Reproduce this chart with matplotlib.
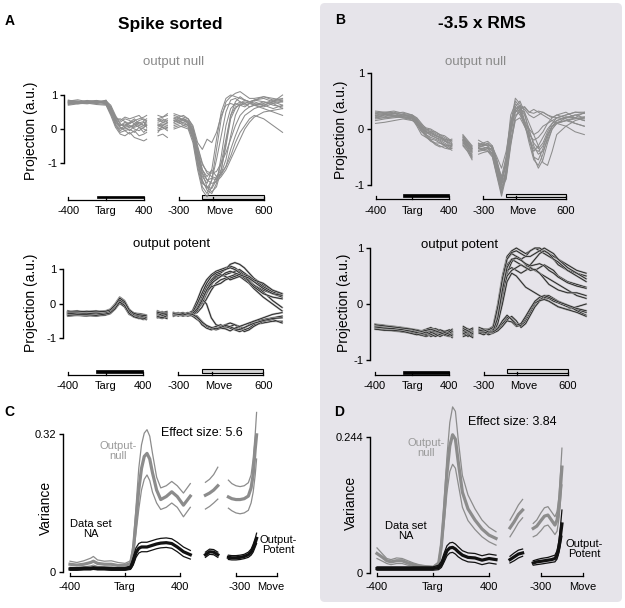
import matplotlib.pyplot as plt
from matplotlib.patches import FancyBboxPatch, Rectangle

plt.rcParams['font.family'] = ['Liberation Sans', 'DejaVu Sans']

W, H = 625, 608
NULL_GREY = '#8c8c8c'

# ---------------- data ----------------
# time samples (ms) of the projection traces
T_LEFT = [-400, -300, -200, -100, 0, 50, 100, 150, 200, 250, 300, 350, 400, 430]
X_MID = [550, 600, 650]
T_RIGHT = [-350, -300, -250, -200, -150, -100, -50, 0, 50, 100, 150, 200, 250, 300,
           350, 400, 450, 500, 600, 700, 800]

TICKS_LEFT = [-400, 0, 400]
LABELS_LEFT = ['-400', 'Targ', '400']
TICKS_RIGHT = [-300, 60, 600]
LABELS_RIGHT = ['-300', 'Move', '600']
TARG_BAR = (-100, 400)
MOVE_BAR = (-50, 600)

# A, output null
A_NULL_LEFT = [
    [0.80, 0.82, 0.78, 0.80, 0.75, 0.45, 0.20, 0.10, 0.15, 0.05, 0.12, 0.20, 0.10, 0.15],
    [0.75, 0.78, 0.80, 0.76, 0.78, 0.60, 0.30, 0.05, -0.05, 0.00, -0.10, 0.05, 0.00, -0.05],
    [0.85, 0.80, 0.82, 0.84, 0.80, 0.55, 0.25, 0.20, 0.30, 0.25, 0.15, 0.25, 0.30, 0.20],
    [0.70, 0.74, 0.76, 0.72, 0.70, 0.40, 0.05, -0.15, -0.20, -0.10, -0.25, -0.30, -0.35, -0.30],
    [0.78, 0.76, 0.74, 0.78, 0.82, 0.70, 0.40, 0.15, 0.05, 0.10, 0.00, -0.05, 0.05, 0.10],
    [0.82, 0.86, 0.80, 0.82, 0.78, 0.50, 0.15, 0.00, 0.10, 0.20, 0.30, 0.15, 0.10, 0.25],
    [0.76, 0.80, 0.84, 0.80, 0.76, 0.65, 0.35, 0.25, 0.35, 0.30, 0.35, 0.40, 0.25, 0.30],
    [0.80, 0.78, 0.80, 0.76, 0.85, 0.50, 0.10, -0.10, -0.05, -0.15, -0.05, -0.20, -0.15, -0.10],
    [0.84, 0.82, 0.78, 0.80, 0.74, 0.45, 0.20, 0.05, 0.00, 0.05, 0.15, 0.05, -0.10, 0.00],
    [0.72, 0.76, 0.80, 0.78, 0.80, 0.60, 0.25, 0.10, 0.20, 0.10, 0.05, 0.10, 0.20, 0.05],
    [0.78, 0.80, 0.76, 0.82, 0.78, 0.62, 0.35, 0.15, 0.08, 0.18, 0.22, 0.10, 0.05, 0.12],
    [0.80, 0.74, 0.78, 0.75, 0.72, 0.48, 0.12, -0.05, 0.05, -0.05, 0.08, 0.18, 0.22, 0.10],
    [0.74, 0.78, 0.82, 0.80, 0.84, 0.66, 0.28, 0.30, 0.22, 0.15, 0.25, 0.30, 0.35, 0.40],
]
A_NULL_MID = [[0.10, 0.20, 0.15], [0.00, 0.05, -0.05], [0.30, 0.35, 0.40], [-0.20, -0.15, -0.25],
              [0.15, 0.10, 0.20], [0.25, 0.30, 0.20], [0.40, 0.35, 0.45], [-0.05, 0.00, 0.05],
              [0.05, 0.15, 0.10], [0.20, 0.25, 0.30], [0.12, 0.05, 0.00], [0.30, 0.20, 0.25],
              [-0.10, 0.10, 0.05]]
A_NULL_RIGHT = [
    [0.30, 0.25, 0.30, 0.20, -0.10, -0.80, -1.40, -1.60, -1.20, -0.30, 0.50, 0.90, 1.00, 0.95, 0.90, 0.85, 0.80, 0.85, 0.90, 0.80, 0.70],
    [0.20, 0.25, 0.15, 0.10, -0.30, -1.10, -1.70, -1.90, -1.50, -0.60, 0.30, 0.80, 0.95, 1.05, 1.10, 1.00, 0.90, 0.90, 0.95, 0.85, 0.80],
    [0.45, 0.40, 0.35, 0.30, 0.10, -0.40, -0.60, -0.30, -0.40, -0.10, 0.40, 0.70, 0.75, 0.70, 0.80, 0.75, 0.65, 0.70, 0.80, 0.75, 0.60],
    [0.10, 0.15, 0.20, 0.10, -0.20, -0.90, -1.50, -1.80, -1.90, -1.60, -0.80, 0.10, 0.60, 0.75, 0.70, 0.75, 0.80, 0.85, 0.80, 0.70, 0.65],
    [0.25, 0.20, 0.25, 0.15, -0.25, -1.00, -1.60, -1.70, -1.75, -1.50, -1.00, -0.30, 0.40, 0.65, 0.70, 0.65, 0.75, 0.70, 0.75, 0.85, 0.90],
    [0.35, 0.30, 0.30, 0.25, 0.00, -0.60, -1.20, -1.40, -1.20, -1.40, -1.20, -0.50, 0.30, 0.60, 0.75, 0.85, 0.80, 0.70, 0.65, 0.75, 0.80],
    [0.05, 0.10, 0.05, 0.00, -0.40, -1.20, -1.80, -2.00, -1.70, -1.40, -1.30, -0.90, -0.20, 0.40, 0.70, 0.80, 0.75, 0.80, 0.70, 0.60, 0.70],
    [0.20, 0.30, 0.25, 0.20, -0.10, -0.70, -1.20, -1.50, -1.60, -1.55, -1.40, -1.20, -0.90, -0.60, -0.30, 0.00, 0.20, 0.35, 0.50, 0.55, 0.60],
    [0.40, 0.35, 0.40, 0.30, 0.05, -0.50, -1.00, -1.30, -1.40, -1.45, -1.30, -1.10, -0.80, -0.40, -0.10, 0.10, 0.30, 0.40, 0.30, 0.10, -0.10],
    [0.15, 0.20, 0.10, 0.15, -0.15, -0.80, -1.30, -1.50, -1.45, -1.50, -1.35, -1.10, -0.60, -0.20, 0.15, 0.40, 0.50, 0.60, 0.70, 0.80, 1.00],
    [0.30, 0.35, 0.25, 0.20, -0.05, -0.70, -1.30, -1.70, -1.85, -1.70, -1.20, -0.40, 0.40, 0.80, 0.95, 0.85, 0.80, 0.75, 0.70, 0.80, 0.85],
    [0.00, 0.05, 0.10, 0.05, -0.30, -0.95, -1.55, -1.75, -1.50, -0.90, -0.20, 0.50, 0.85, 0.90, 0.80, 0.70, 0.75, 0.85, 0.95, 0.90, 0.85],
    [0.25, 0.20, 0.30, 0.20, -0.05, -0.55, -1.05, -1.25, -1.30, -1.25, -1.00, -0.70, -0.30, 0.10, 0.40, 0.55, 0.65, 0.70, 0.60, 0.50, 0.40],
]

# A, output potent
A_POT_LEFT = [
    [-0.25, -0.28, -0.26, -0.25, -0.22, -0.18, -0.05, 0.15, 0.05, -0.20, -0.30, -0.32, -0.35, -0.38],
    [-0.30, -0.32, -0.30, -0.28, -0.25, -0.20, -0.10, 0.10, 0.00, -0.25, -0.35, -0.38, -0.40, -0.42],
    [-0.22, -0.20, -0.24, -0.22, -0.20, -0.15, 0.00, 0.20, 0.10, -0.15, -0.28, -0.30, -0.32, -0.35],
    [-0.35, -0.33, -0.35, -0.32, -0.30, -0.25, -0.12, 0.05, -0.05, -0.28, -0.38, -0.40, -0.45, -0.43],
    [-0.28, -0.26, -0.28, -0.30, -0.27, -0.22, -0.08, 0.12, 0.02, -0.22, -0.32, -0.36, -0.38, -0.40],
    [-0.20, -0.25, -0.22, -0.20, -0.24, -0.18, -0.02, 0.18, 0.08, -0.18, -0.26, -0.28, -0.30, -0.32],
    [-0.32, -0.30, -0.33, -0.35, -0.32, -0.28, -0.15, 0.02, -0.08, -0.30, -0.36, -0.42, -0.40, -0.45],
    [-0.26, -0.24, -0.25, -0.27, -0.24, -0.20, -0.06, 0.14, 0.04, -0.22, -0.30, -0.34, -0.36, -0.34],
    [-0.30, -0.28, -0.30, -0.26, -0.28, -0.24, -0.12, 0.08, 0.00, -0.26, -0.34, -0.36, -0.42, -0.40],
    [-0.24, -0.27, -0.28, -0.24, -0.22, -0.16, -0.04, 0.16, 0.06, -0.20, -0.28, -0.30, -0.34, -0.36],
    [-0.27, -0.29, -0.27, -0.29, -0.26, -0.21, -0.07, 0.11, 0.03, -0.21, -0.31, -0.33, -0.37, -0.39],
    [-0.33, -0.31, -0.31, -0.33, -0.29, -0.26, -0.14, 0.06, -0.04, -0.27, -0.37, -0.41, -0.41, -0.44],
    [-0.23, -0.23, -0.21, -0.23, -0.21, -0.17, -0.03, 0.17, 0.07, -0.17, -0.27, -0.31, -0.33, -0.33],
]
A_POT_MID = [[-0.25, -0.30, -0.28], [-0.35, -0.32, -0.40], [-0.20, -0.25, -0.22], [-0.40, -0.38, -0.42],
             [-0.28, -0.22, -0.30], [-0.30, -0.35, -0.25], [-0.38, -0.42, -0.36], [-0.22, -0.28, -0.32],
             [-0.32, -0.30, -0.35], [-0.26, -0.24, -0.30], [-0.27, -0.33, -0.30], [-0.36, -0.40, -0.34],
             [-0.24, -0.27, -0.26]]
A_POT_RIGHT = [
    [-0.30, -0.25, -0.30, -0.28, -0.20, 0.10, 0.45, 0.70, 0.85, 0.95, 1.00, 1.05, 1.10, 1.05, 0.95, 0.85, 0.70, 0.55, 0.40, 0.30, 0.20],
    [-0.35, -0.30, -0.32, -0.30, -0.30, -0.10, 0.20, 0.50, 0.70, 0.85, 0.90, 1.00, 1.15, 1.20, 1.15, 1.05, 0.90, 0.75, 0.55, 0.40, 0.30],
    [-0.25, -0.28, -0.25, -0.30, -0.25, -0.15, 0.00, 0.30, 0.55, 0.75, 0.80, 0.85, 0.90, 0.95, 1.00, 0.90, 0.80, 0.70, 0.50, 0.35, 0.25],
    [-0.30, -0.35, -0.30, -0.25, -0.30, -0.25, -0.10, 0.15, 0.40, 0.60, 0.70, 0.75, 0.80, 0.85, 0.80, 0.70, 0.60, 0.45, 0.20, 0.00, -0.20],
    [-0.28, -0.30, -0.35, -0.32, -0.28, -0.20, 0.10, 0.35, 0.50, 0.55, 0.60, 0.70, 0.75, 0.80, 0.85, 0.75, 0.65, 0.55, 0.35, 0.10, -0.10],
    [-0.32, -0.28, -0.30, -0.35, -0.32, -0.20, 0.05, 0.40, 0.65, 0.80, 0.85, 0.80, 0.70, 0.75, 0.80, 0.85, 0.80, 0.70, 0.60, 0.40, 0.30],
    [-0.30, -0.32, -0.28, -0.30, -0.35, -0.45, -0.55, -0.65, -0.70, -0.65, -0.60, -0.70, -0.65, -0.60, -0.65, -0.70, -0.60, -0.50, -0.45, -0.40, -0.35],
    [-0.25, -0.30, -0.30, -0.28, -0.30, -0.40, -0.60, -0.70, -0.75, -0.70, -0.70, -0.65, -0.70, -0.75, -0.80, -0.75, -0.70, -0.60, -0.55, -0.50, -0.50],
    [-0.35, -0.30, -0.35, -0.30, -0.25, -0.10, 0.15, 0.00, -0.40, -0.60, -0.65, -0.60, -0.55, -0.60, -0.70, -0.80, -0.75, -0.65, -0.50, -0.45, -0.55],
    [-0.28, -0.26, -0.30, -0.30, -0.30, -0.35, -0.50, -0.65, -0.70, -0.75, -0.70, -0.72, -0.78, -0.70, -0.65, -0.60, -0.55, -0.50, -0.40, -0.30, -0.25],
    [-0.30, -0.28, -0.32, -0.30, -0.25, 0.00, 0.30, 0.60, 0.80, 0.90, 0.95, 1.00, 1.05, 1.00, 0.90, 0.80, 0.65, 0.50, 0.30, 0.20, 0.15],
    [-0.32, -0.30, -0.28, -0.30, -0.28, -0.15, 0.10, 0.40, 0.60, 0.70, 0.80, 0.90, 0.95, 0.90, 0.85, 0.80, 0.75, 0.65, 0.45, 0.30, 0.25],
    [-0.28, -0.30, -0.32, -0.28, -0.30, -0.38, -0.52, -0.62, -0.68, -0.72, -0.68, -0.62, -0.66, -0.72, -0.74, -0.68, -0.62, -0.56, -0.48, -0.42, -0.40],
]

# B, output null
B_NULL_LEFT = [
    [0.25, 0.28, 0.25, 0.22, 0.20, 0.10, 0.00, -0.05, -0.10, -0.15, -0.20, -0.25, -0.30, -0.32],
    [0.30, 0.28, 0.30, 0.25, 0.22, 0.15, 0.05, 0.00, -0.05, -0.05, -0.10, -0.15, -0.20, -0.25],
    [0.20, 0.22, 0.25, 0.20, 0.18, 0.05, -0.10, -0.15, -0.20, -0.25, -0.25, -0.30, -0.35, -0.38],
    [0.15, 0.18, 0.20, 0.22, 0.20, 0.12, 0.02, -0.08, -0.05, -0.10, -0.15, -0.20, -0.28, -0.30],
    [0.28, 0.30, 0.28, 0.30, 0.25, 0.20, 0.10, 0.00, -0.02, -0.08, -0.12, -0.18, -0.22, -0.20],
    [0.22, 0.25, 0.22, 0.25, 0.20, 0.08, -0.05, -0.10, -0.15, -0.18, -0.22, -0.28, -0.32, -0.35],
    [0.10, 0.12, 0.15, 0.18, 0.15, 0.10, 0.00, -0.10, -0.18, -0.20, -0.25, -0.28, -0.30, -0.28],
    [0.32, 0.30, 0.32, 0.28, 0.25, 0.18, 0.08, 0.02, 0.00, -0.05, -0.10, -0.12, -0.18, -0.22],
    [0.25, 0.20, 0.22, 0.25, 0.22, 0.12, -0.02, -0.12, -0.20, -0.28, -0.32, -0.30, -0.35, -0.30],
    [0.20, 0.25, 0.28, 0.22, 0.18, 0.10, 0.02, -0.05, -0.12, -0.15, -0.18, -0.22, -0.25, -0.28],
    [0.28, 0.26, 0.24, 0.26, 0.24, 0.16, 0.06, -0.04, -0.08, -0.12, -0.16, -0.20, -0.24, -0.26],
    [0.18, 0.20, 0.22, 0.20, 0.16, 0.08, -0.04, -0.14, -0.22, -0.26, -0.30, -0.34, -0.36, -0.34],
    [0.24, 0.26, 0.28, 0.26, 0.22, 0.14, 0.04, -0.02, -0.06, -0.12, -0.14, -0.18, -0.20, -0.18],
]
B_NULL_MID = [[-0.20, -0.30, -0.40], [-0.15, -0.25, -0.35], [-0.25, -0.35, -0.50], [-0.10, -0.20, -0.30],
              [-0.20, -0.32, -0.45], [-0.30, -0.40, -0.55], [-0.18, -0.28, -0.38], [-0.12, -0.22, -0.32],
              [-0.22, -0.35, -0.48], [-0.25, -0.30, -0.42], [-0.18, -0.26, -0.36], [-0.28, -0.38, -0.52],
              [-0.14, -0.24, -0.34]]
B_NULL_RIGHT = [
    [-0.30, -0.28, -0.30, -0.40, -0.75, -1.15, -0.70, 0.10, 0.55, 0.45, 0.15, -0.20, -0.40, -0.30, -0.15, 0.00, 0.10, 0.15, 0.20, 0.25, 0.28],
    [-0.25, -0.30, -0.25, -0.35, -0.65, -1.00, -0.50, 0.25, 0.45, 0.35, 0.10, -0.15, -0.50, -0.55, -0.35, -0.10, 0.05, 0.10, 0.20, 0.20, 0.15],
    [-0.35, -0.35, -0.32, -0.45, -0.80, -1.10, -0.80, -0.10, 0.35, 0.40, 0.25, 0.00, -0.30, -0.45, -0.40, -0.20, 0.00, 0.10, 0.15, 0.20, 0.30],
    [-0.28, -0.25, -0.30, -0.30, -0.55, -0.90, -0.60, 0.05, 0.30, 0.40, 0.35, 0.25, 0.20, 0.25, 0.30, 0.25, 0.20, 0.25, 0.30, 0.20, 0.15],
    [-0.40, -0.38, -0.35, -0.45, -0.70, -1.05, -0.90, -0.30, 0.20, 0.35, 0.30, 0.10, -0.10, -0.30, -0.60, -0.65, -0.40, -0.10, 0.05, 0.15, 0.20],
    [-0.30, -0.32, -0.35, -0.35, -0.60, -0.85, -0.50, 0.15, 0.35, 0.25, 0.10, 0.00, -0.10, -0.05, 0.05, 0.10, 0.15, 0.10, 0.05, -0.05, -0.10],
    [-0.45, -0.42, -0.40, -0.50, -0.85, -1.20, -0.85, -0.20, 0.25, 0.30, 0.15, -0.05, -0.25, -0.35, -0.25, -0.05, 0.10, 0.20, 0.25, 0.30, 0.30],
    [-0.32, -0.30, -0.28, -0.32, -0.50, -0.70, -0.40, 0.10, 0.30, 0.35, 0.40, 0.30, 0.35, 0.30, 0.25, 0.20, 0.15, 0.20, 0.25, 0.30, 0.28],
    [-0.35, -0.38, -0.40, -0.42, -0.75, -1.00, -0.75, -0.05, 0.40, 0.50, 0.30, -0.10, -0.50, -0.70, -0.55, -0.25, 0.00, 0.10, 0.15, 0.10, 0.05],
    [-0.20, -0.25, -0.22, -0.30, -0.60, -0.95, -0.65, 0.00, 0.40, 0.30, 0.05, -0.10, -0.20, -0.15, -0.05, 0.10, 0.20, 0.25, 0.20, 0.25, 0.20],
    [-0.38, -0.36, -0.38, -0.48, -0.82, -1.15, -0.75, 0.00, 0.50, 0.40, 0.10, -0.25, -0.55, -0.65, -0.45, -0.15, 0.05, 0.15, 0.22, 0.20, 0.18],
    [-0.26, -0.28, -0.26, -0.34, -0.62, -0.95, -0.60, 0.05, 0.35, 0.42, 0.38, 0.30, 0.28, 0.32, 0.30, 0.25, 0.22, 0.20, 0.18, 0.10, 0.05],
    [-0.33, -0.35, -0.33, -0.38, -0.68, -1.05, -0.85, -0.25, 0.15, 0.20, 0.05, -0.15, -0.35, -0.40, -0.30, -0.10, 0.05, 0.12, 0.15, 0.18, 0.22],
]

# B, output potent
B_POT_LEFT = [
    [-0.38, -0.40, -0.42, -0.45, -0.48, -0.50, -0.52, -0.50, -0.48, -0.52, -0.50, -0.53, -0.50, -0.52],
    [-0.42, -0.44, -0.45, -0.48, -0.50, -0.52, -0.55, -0.55, -0.52, -0.50, -0.55, -0.52, -0.55, -0.58],
    [-0.36, -0.38, -0.40, -0.42, -0.45, -0.46, -0.48, -0.45, -0.42, -0.46, -0.48, -0.50, -0.48, -0.45],
    [-0.40, -0.42, -0.44, -0.46, -0.50, -0.54, -0.56, -0.58, -0.55, -0.57, -0.52, -0.50, -0.52, -0.55],
    [-0.44, -0.46, -0.48, -0.50, -0.52, -0.50, -0.48, -0.52, -0.58, -0.55, -0.50, -0.48, -0.52, -0.50],
    [-0.39, -0.41, -0.40, -0.44, -0.47, -0.49, -0.51, -0.49, -0.46, -0.44, -0.47, -0.51, -0.53, -0.50],
    [-0.41, -0.43, -0.46, -0.47, -0.49, -0.51, -0.53, -0.56, -0.54, -0.50, -0.46, -0.49, -0.56, -0.60],
    [-0.37, -0.40, -0.43, -0.44, -0.46, -0.48, -0.50, -0.51, -0.50, -0.53, -0.56, -0.55, -0.51, -0.48],
    [-0.43, -0.42, -0.45, -0.47, -0.51, -0.53, -0.50, -0.47, -0.50, -0.54, -0.58, -0.54, -0.49, -0.53],
    [-0.40, -0.39, -0.41, -0.43, -0.46, -0.50, -0.54, -0.53, -0.49, -0.47, -0.51, -0.56, -0.58, -0.55],
    [-0.41, -0.43, -0.44, -0.46, -0.49, -0.51, -0.53, -0.54, -0.51, -0.49, -0.52, -0.54, -0.57, -0.54],
    [-0.37, -0.39, -0.41, -0.43, -0.45, -0.47, -0.49, -0.47, -0.45, -0.48, -0.51, -0.49, -0.46, -0.49],
    [-0.45, -0.47, -0.47, -0.49, -0.53, -0.55, -0.53, -0.50, -0.54, -0.58, -0.54, -0.51, -0.54, -0.57],
]
B_POT_MID = [[-0.45, -0.50, -0.48], [-0.55, -0.52, -0.58], [-0.42, -0.46, -0.50], [-0.50, -0.55, -0.52],
             [-0.48, -0.44, -0.50], [-0.52, -0.58, -0.55], [-0.46, -0.50, -0.45], [-0.58, -0.55, -0.60],
             [-0.40, -0.45, -0.52], [-0.50, -0.47, -0.43], [-0.47, -0.52, -0.50], [-0.53, -0.49, -0.55],
             [-0.44, -0.48, -0.53]]
B_POT_RIGHT = [
    [-0.45, -0.45, -0.48, -0.40, 0.00, 0.50, 0.85, 0.95, 1.00, 0.95, 0.90, 0.95, 1.00, 0.95, 0.90, 0.85, 0.80, 0.70, 0.60, 0.55, 0.50],
    [-0.50, -0.48, -0.50, -0.45, -0.10, 0.40, 0.80, 0.90, 0.85, 0.80, 0.85, 0.95, 1.00, 1.00, 0.95, 0.90, 0.85, 0.80, 0.70, 0.60, 0.55],
    [-0.42, -0.45, -0.45, -0.40, -0.05, 0.45, 0.70, 0.80, 0.75, 0.70, 0.65, 0.70, 0.80, 0.90, 0.95, 0.90, 0.80, 0.75, 0.60, 0.50, 0.40],
    [-0.48, -0.50, -0.52, -0.50, -0.30, 0.10, 0.55, 0.75, 0.85, 0.80, 0.70, 0.65, 0.60, 0.65, 0.70, 0.65, 0.60, 0.50, 0.40, 0.35, 0.30],
    [-0.50, -0.52, -0.50, -0.48, -0.20, 0.30, 0.60, 0.65, 0.60, 0.55, 0.60, 0.65, 0.60, 0.55, 0.50, 0.45, 0.40, 0.35, 0.25, 0.15, 0.10],
    [-0.45, -0.48, -0.50, -0.45, -0.25, 0.20, 0.50, 0.60, 0.65, 0.70, 0.65, 0.60, 0.62, 0.55, 0.45, 0.35, 0.30, 0.25, 0.20, 0.20, 0.15],
    [-0.52, -0.50, -0.55, -0.52, -0.35, 0.00, 0.40, 0.55, 0.50, 0.40, 0.30, 0.25, 0.20, 0.15, 0.10, 0.05, 0.00, -0.05, -0.10, -0.05, 0.00],
    [-0.50, -0.52, -0.50, -0.48, -0.42, -0.32, -0.24, -0.26, -0.36, -0.40, -0.30, -0.15, 0.00, 0.08, 0.12, 0.10, 0.05, 0.02, -0.05, -0.10, -0.15],
    [-0.48, -0.50, -0.52, -0.50, -0.45, -0.35, -0.28, -0.22, -0.30, -0.42, -0.35, -0.20, -0.05, 0.05, 0.15, 0.15, 0.10, 0.05, -0.02, -0.12, -0.20],
    [-0.52, -0.55, -0.50, -0.52, -0.48, -0.40, -0.30, -0.32, -0.40, -0.38, -0.25, -0.10, 0.02, 0.06, 0.08, 0.05, 0.00, -0.05, -0.10, -0.15, -0.22],
    [-0.46, -0.48, -0.46, -0.42, -0.05, 0.45, 0.80, 0.92, 0.95, 0.90, 0.85, 0.85, 0.90, 0.95, 1.00, 0.95, 0.90, 0.80, 0.65, 0.55, 0.45],
    [-0.50, -0.50, -0.52, -0.48, -0.25, 0.25, 0.65, 0.80, 0.82, 0.78, 0.72, 0.68, 0.70, 0.72, 0.68, 0.60, 0.55, 0.48, 0.38, 0.32, 0.28],
    [-0.48, -0.46, -0.50, -0.50, -0.44, -0.30, -0.20, -0.28, -0.38, -0.35, -0.22, -0.08, 0.05, 0.12, 0.15, 0.12, 0.08, 0.04, -0.02, -0.08, -0.12],
]

# C, variance (upper, mean, lower)
C_T_LEFT = [-400, -350, -300, -250, -230, -200, -150, -100, -50, 0, 40, 60, 80, 100, 120, 140,
            160, 180, 200, 230, 260, 300, 340, 380, 425, 475]
C_X_MID = [585, 615, 645, 675]
C_T_RIGHT = [-355, -330, -300, -270, -240, -210, -190, -175, -160, -150]
C_NULL_LEFT = [
    [0.025, 0.022, 0.026, 0.032, 0.036, 0.028, 0.025, 0.026, 0.022, 0.020, 0.026, 0.065, 0.150, 0.240, 0.295, 0.322, 0.330, 0.315, 0.275, 0.220, 0.195, 0.200, 0.210, 0.200, 0.183, 0.205],
    [0.018, 0.016, 0.018, 0.022, 0.025, 0.020, 0.018, 0.018, 0.015, 0.015, 0.020, 0.050, 0.120, 0.190, 0.240, 0.268, 0.275, 0.262, 0.230, 0.190, 0.168, 0.175, 0.186, 0.175, 0.155, 0.176],
    [0.011, 0.010, 0.012, 0.014, 0.016, 0.013, 0.012, 0.012, 0.010, 0.010, 0.014, 0.036, 0.090, 0.145, 0.190, 0.215, 0.225, 0.212, 0.185, 0.160, 0.145, 0.150, 0.160, 0.150, 0.128, 0.150],
]
C_POT_LEFT = [
    [0.010, 0.010, 0.011, 0.011, 0.012, 0.011, 0.011, 0.010, 0.010, 0.010, 0.014, 0.034, 0.056, 0.066, 0.069, 0.069, 0.069, 0.071, 0.073, 0.076, 0.078, 0.079, 0.077, 0.069, 0.058, 0.050],
    [0.007, 0.007, 0.008, 0.008, 0.009, 0.008, 0.008, 0.007, 0.007, 0.007, 0.010, 0.025, 0.045, 0.055, 0.058, 0.058, 0.058, 0.060, 0.062, 0.065, 0.067, 0.068, 0.066, 0.058, 0.047, 0.040],
    [0.004, 0.004, 0.005, 0.005, 0.006, 0.005, 0.005, 0.004, 0.004, 0.004, 0.006, 0.016, 0.034, 0.044, 0.047, 0.047, 0.047, 0.049, 0.051, 0.054, 0.056, 0.057, 0.055, 0.047, 0.036, 0.030],
]
C_NULL_MID = [[0.208, 0.215, 0.226, 0.243], [0.178, 0.183, 0.190, 0.200], [0.146, 0.152, 0.160, 0.169]]
C_POT_MID = [[0.046, 0.053, 0.052, 0.046], [0.040, 0.047, 0.046, 0.040], [0.034, 0.041, 0.040, 0.034]]
C_NULL_RIGHT = [
    [0.213, 0.205, 0.200, 0.198, 0.200, 0.207, 0.225, 0.262, 0.320, 0.370],
    [0.174, 0.170, 0.168, 0.168, 0.170, 0.176, 0.195, 0.225, 0.285, 0.318],
    [0.148, 0.142, 0.137, 0.135, 0.137, 0.143, 0.160, 0.185, 0.225, 0.262],
]
C_POT_RIGHT = [
    [0.039, 0.038, 0.038, 0.039, 0.041, 0.046, 0.053, 0.064, 0.078, 0.090],
    [0.034, 0.033, 0.033, 0.034, 0.036, 0.040, 0.046, 0.055, 0.068, 0.078],
    [0.029, 0.028, 0.028, 0.029, 0.031, 0.034, 0.039, 0.046, 0.058, 0.066],
]

# D, variance (upper, mean, lower)
D_T_LEFT = [-400, -360, -330, -300, -260, -220, -180, -140, -100, -50, 0, 40, 60, 80, 100, 120,
            140, 160, 180, 210, 250, 300, 350, 400, 450]
D_X_MID = [550, 580, 610, 640]
D_T_RIGHT = [-355, -330, -300, -275, -250, -225, -200, -185, -170, -160, -150]
D_NULL_LEFT = [
    [0.045, 0.034, 0.026, 0.024, 0.027, 0.026, 0.022, 0.018, 0.015, 0.013, 0.012, 0.020, 0.060, 0.130, 0.210, 0.270, 0.298, 0.290, 0.240, 0.175, 0.140, 0.115, 0.095, 0.082, 0.074],
    [0.035, 0.028, 0.022, 0.020, 0.022, 0.022, 0.018, 0.015, 0.012, 0.011, 0.010, 0.016, 0.050, 0.110, 0.180, 0.228, 0.248, 0.240, 0.200, 0.145, 0.115, 0.095, 0.079, 0.068, 0.062],
    [0.026, 0.021, 0.017, 0.015, 0.017, 0.017, 0.014, 0.012, 0.010, 0.009, 0.008, 0.013, 0.040, 0.090, 0.145, 0.182, 0.195, 0.188, 0.160, 0.118, 0.094, 0.078, 0.065, 0.056, 0.050],
]
D_POT_LEFT = [
    [0.011, 0.011, 0.011, 0.011, 0.011, 0.011, 0.011, 0.011, 0.011, 0.011, 0.011, 0.014, 0.021, 0.036, 0.049, 0.054, 0.055, 0.052, 0.047, 0.040, 0.036, 0.035, 0.031, 0.034, 0.032],
    [0.008, 0.008, 0.008, 0.008, 0.008, 0.008, 0.008, 0.008, 0.008, 0.008, 0.008, 0.010, 0.015, 0.028, 0.040, 0.045, 0.046, 0.043, 0.038, 0.032, 0.028, 0.027, 0.023, 0.026, 0.024],
    [0.005, 0.005, 0.005, 0.005, 0.005, 0.005, 0.005, 0.005, 0.005, 0.005, 0.005, 0.006, 0.010, 0.020, 0.031, 0.036, 0.037, 0.034, 0.029, 0.024, 0.020, 0.019, 0.015, 0.018, 0.016],
]
D_NULL_MID = [[0.095, 0.108, 0.122, 0.132], [0.081, 0.092, 0.105, 0.113], [0.065, 0.077, 0.090, 0.099]]
D_POT_MID = [[0.030, 0.036, 0.041, 0.043], [0.024, 0.029, 0.034, 0.036], [0.018, 0.022, 0.027, 0.030]]
D_NULL_RIGHT = [
    [0.089, 0.095, 0.108, 0.117, 0.119, 0.110, 0.101, 0.110, 0.140, 0.180, 0.224],
    [0.080, 0.084, 0.094, 0.102, 0.104, 0.095, 0.086, 0.095, 0.120, 0.155, 0.190],
    [0.065, 0.068, 0.076, 0.084, 0.086, 0.078, 0.069, 0.075, 0.100, 0.130, 0.158],
]
D_POT_RIGHT = [
    [0.022, 0.024, 0.026, 0.027, 0.028, 0.030, 0.032, 0.040, 0.060, 0.085, 0.113],
    [0.018, 0.020, 0.021, 0.022, 0.023, 0.024, 0.026, 0.032, 0.048, 0.068, 0.088],
    [0.014, 0.015, 0.016, 0.017, 0.018, 0.019, 0.020, 0.025, 0.038, 0.052, 0.066],
]

# ---------------- figure ----------------
fig = plt.figure(figsize=(W / 100, H / 100), dpi=100)
fig.patches.append(FancyBboxPatch((320 / W, 1 - 602 / H), 302 / W, 599 / H,
                                  boxstyle='round,pad=0,rounding_size=0.008',
                                  transform=fig.transFigure, facecolor='#e6e4ea',
                                  edgecolor='none', zorder=-5))


def ftext(px, py, s, **kw):
    fig.text(px / W, 1 - py / H, s, ha=kw.pop('ha', 'center'), va=kw.pop('va', 'center'), **kw)


def make_ax(box, xcal, ycal, spine_px, ybounds, yticks, ylabels):
    # box in pixels (left, top, right, bottom); calibrations: (pixel, value, pixels per unit)
    L, T, R, B = box
    ax = fig.add_axes([L / W, 1 - B / H, (R - L) / W, (B - T) / H])
    px0, x0, sx = xcal
    py0, y0, sy = ycal
    fx = lambda p: x0 + (p - px0) / sx
    fy = lambda p: y0 - (p - py0) / sy
    ax.set_xlim(fx(L), fx(R))
    ax.set_ylim(fy(B), fy(T))
    ax.patch.set_visible(False)
    for s in ['top', 'right', 'bottom']:
        ax.spines[s].set_visible(False)
    ax.spines['left'].set_position(('data', fx(spine_px)))
    ax.spines['left'].set_bounds(*ybounds)
    ax.spines['left'].set_linewidth(1.0)
    ax.set_xticks([])
    ax.set_yticks(yticks)
    ax.set_yticklabels(ylabels)
    ax.tick_params(axis='y', direction='out', length=3, width=1.0, pad=2, labelsize=8)
    return ax, fx, fy


def time_axis(ax, fx, fy, line_py, lab_py, segments):
    y = fy(line_py)
    y_tick = fy(line_py - 3)
    for ticks, labels, lab_pos in segments:
        ax.plot([ticks[0], ticks[-1]], [y, y], color='k', lw=0.9, clip_on=False)
        for t in ticks:
            ax.plot([t, t], [y, y_tick], color='k', lw=0.9, clip_on=False)
        for x, s in zip(lab_pos, labels):
            ax.text(x, fy(lab_py), s, ha='center', va='center', fontsize=8)


def bars(ax, fy, offset, black_py, white_py):
    ax.add_patch(Rectangle((TARG_BAR[0], fy(black_py[1])), TARG_BAR[1] - TARG_BAR[0],
                           fy(black_py[0]) - fy(black_py[1]), facecolor='k', edgecolor='k',
                           lw=0.5, clip_on=False))
    ax.add_patch(Rectangle((MOVE_BAR[0] + offset, fy(white_py[1])), MOVE_BAR[1] - MOVE_BAR[0],
                           fy(white_py[0]) - fy(white_py[1]), facecolor='#d4d4d4', edgecolor='k',
                           lw=0.8, clip_on=False))


def draw_traces(ax, left, mid, right, offset, potent):
    xr = [t + offset for t in T_RIGHT]
    for xs, seg in ((T_LEFT, left), (X_MID, mid), (xr, right)):
        for ys in seg:
            if potent:
                ax.plot(xs, ys, color='#a8a8a8', lw=1.4, clip_on=False)
                ax.plot(xs, ys, color='#151515', lw=0.55, clip_on=False)
            else:
                ax.plot(xs, ys, color=NULL_GREY, lw=0.75, clip_on=False)


def draw_band(ax, xs, band, color):
    ax.plot(xs, band[0], color=color, lw=0.9, clip_on=False)
    ax.plot(xs, band[2], color=color, lw=0.9, clip_on=False)
    ax.plot(xs, band[1], color=color, lw=2.3, clip_on=False)


OFF_AB = 1070


def projection_panel(box, xcal, ycal, spine_px, line_py, lab_py, black_py, white_py,
                     left, mid, right, potent):
    ax, fx, fy = make_ax(box, xcal, ycal, spine_px, (-1, 1), [-1, 0, 1], ['-1', '0', '1'])
    draw_traces(ax, left, mid, right, OFF_AB, potent)
    bars(ax, fy, OFF_AB, black_py, white_py)
    right_ticks = [t + OFF_AB for t in TICKS_RIGHT]
    right_lab = [-300 + OFF_AB, 130 + OFF_AB, 600 + OFF_AB]
    time_axis(ax, fx, fy, line_py, lab_py,
              [(TICKS_LEFT, LABELS_LEFT, TICKS_LEFT), (right_ticks, LABELS_RIGHT, right_lab)])
    return ax


# A null
projection_panel((20, 60, 300, 222), (68.3, -400, 0.0944), (129, 0, 34), 64, 200.3, 211,
                 (195.7, 198.3), (195, 198.7), A_NULL_LEFT, A_NULL_MID, A_NULL_RIGHT, False)
# A potent
projection_panel((20, 250, 300, 398), (67.8, -400, 0.0944), (304, 0, 34.5), 63, 375, 386,
                 (370, 372.7), (369, 373), A_POT_LEFT, A_POT_MID, A_POT_RIGHT, True)
# B null
projection_panel((330, 60, 610, 222), (375.5, -400, 0.092), (129, 0, 56), 371, 199.5, 211,
                 (194, 197.3), (194, 197.3), B_NULL_LEFT, B_NULL_MID, B_NULL_RIGHT, False)
# B potent
projection_panel((330, 235, 610, 398), (375, -400, 0.093), (304, 0, 56), 370, 375, 386,
                 (371, 373.7), (369.5, 373.5), B_POT_LEFT, B_POT_MID, B_POT_RIGHT, True)

# C variance
OFF_C = 1107
ax, fx, fy = make_ax((20, 400, 305, 600), (70, -400, 0.1375), (572, 0, 138 / 0.32), 63,
                     (0, 0.32), [0, 0.32], ['0', '0.32'])
for band, xs in ((C_NULL_LEFT, C_T_LEFT), (C_NULL_MID, C_X_MID),
                 (C_NULL_RIGHT, [t + OFF_C for t in C_T_RIGHT])):
    draw_band(ax, xs, band, NULL_GREY)
for band, xs in ((C_POT_LEFT, C_T_LEFT), (C_POT_MID, C_X_MID),
                 (C_POT_RIGHT, [t + OFF_C for t in C_T_RIGHT])):
    draw_band(ax, xs, band, '#111111')
time_axis(ax, fx, fy, 576, 587,
          [(TICKS_LEFT, LABELS_LEFT, TICKS_LEFT),
           ([-300 + OFF_C, OFF_C], ['-300', 'Move'], [-270 + OFF_C, -50 + OFF_C])])

# D variance
OFF_D = 1071
ax, fx, fy = make_ax((330, 400, 615, 600), (377, -400, 0.14), (573, 0, 136 / 0.244), 370,
                     (0, 0.244), [0, 0.244], ['0', '0.244'])
for band, xs in ((D_NULL_LEFT, D_T_LEFT), (D_NULL_MID, D_X_MID),
                 (D_NULL_RIGHT, [t + OFF_D for t in D_T_RIGHT])):
    draw_band(ax, xs, band, NULL_GREY)
for band, xs in ((D_POT_LEFT, D_T_LEFT), (D_POT_MID, D_X_MID),
                 (D_POT_RIGHT, [t + OFF_D for t in D_T_RIGHT])):
    draw_band(ax, xs, band, '#111111')
time_axis(ax, fx, fy, 576, 587,
          [(TICKS_LEFT, LABELS_LEFT, TICKS_LEFT),
           ([-300 + OFF_D, OFF_D], ['-300', 'Move'], [-300 + OFF_D, OFF_D])])

# ---------------- text ----------------
ftext(9.5, 21, 'A', fontsize=10, fontweight='bold')
ftext(340, 20, 'B', fontsize=10, fontweight='bold')
ftext(9, 412, 'C', fontsize=10, fontweight='bold')
ftext(339, 412, 'D', fontsize=10, fontweight='bold')
ftext(170, 24, 'Spike sorted', fontsize=12.5, fontweight='bold')
ftext(482, 24, '-3.5 x RMS', fontsize=12.5, fontweight='bold')
ftext(174, 62, 'output null', fontsize=9.5, color='#8a8a8a')
ftext(476, 62, 'output null', fontsize=9.5, color='#8a8a8a')
ftext(172, 244, 'output potent', fontsize=9.5)
ftext(460, 245, 'output potent', fontsize=9.5)
ftext(31, 131, 'Projection (a.u.)', fontsize=10, rotation=90)
ftext(31, 303, 'Projection (a.u.)', fontsize=10, rotation=90)
ftext(341, 130, 'Projection (a.u.)', fontsize=10, rotation=90)
ftext(344, 303, 'Projection (a.u.)', fontsize=10, rotation=90)
ftext(46, 508, 'Variance', fontsize=10, rotation=90)
ftext(351, 503, 'Variance', fontsize=10, rotation=90)
ftext(202, 433, 'Effect size: 5.6', fontsize=9)
ftext(512, 422, 'Effect size: 3.84', fontsize=9)
ftext(118, 451, 'Output-\nnull', fontsize=8, color='#9a9a9a', linespacing=1.1)
ftext(426, 448, 'Output-\nnull', fontsize=8, color='#9a9a9a', linespacing=1.1)
ftext(91, 529, 'Data set\nNA', fontsize=8, linespacing=1.1)
ftext(406, 531, 'Data set\nNA', fontsize=8, linespacing=1.1)
ftext(278, 545, 'Output-\nPotent', fontsize=8, linespacing=1.1)
ftext(584, 549, 'Output-\nPotent', fontsize=8, linespacing=1.1)

fig.savefig('out.png', dpi=100)
